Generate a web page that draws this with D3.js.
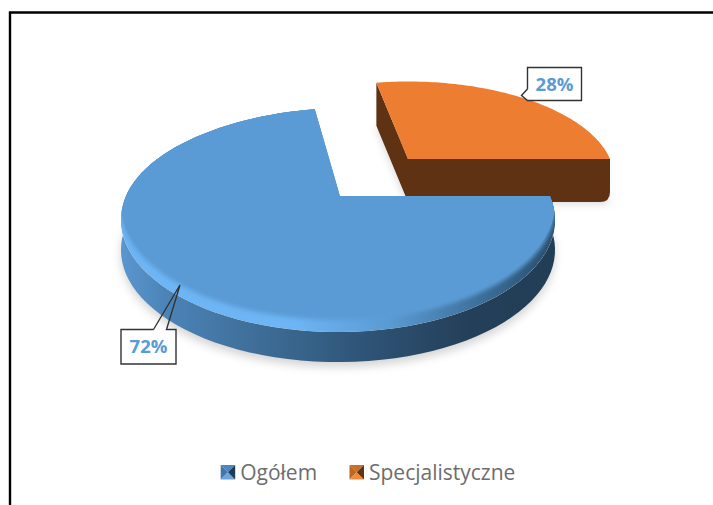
<!DOCTYPE html>
<html>
<head>
<meta charset="utf-8">
<script src="https://cdnjs.cloudflare.com/ajax/libs/d3/7.8.5/d3.min.js"></script>
<style>
  html, body { margin: 0; padding: 0; background: #fff; }
  svg { display: block; }
  text { font-family: "Open Sans", "Noto Sans", sans-serif; }
</style>
</head>
<body>
<div id="chart"></div>
<script>
var categories = ['Ogółem', 'Specjalistyczne'];
var values = [72, 28];
var labels = ['72%', '28%'];
var topColors = ['#5b9bd5', '#ed7d31'];

var width = 713, height = 505;

var svg = d3.select('#chart').append('svg')
    .attr('width', width)
    .attr('height', height);

var defs = svg.append('defs');

var blur = defs.append('filter').attr('id', 'shadow')
    .attr('x', '-20%').attr('y', '-20%').attr('width', '140%').attr('height', '140%');
blur.append('feGaussianBlur').attr('stdDeviation', 5);

var soft = defs.append('filter').attr('id', 'soft')
    .attr('x', '-5%').attr('y', '-5%').attr('width', '110%').attr('height', '110%');
soft.append('feGaussianBlur').attr('stdDeviation', 2);

function gradient(id, x1, x2, stops) {
    var g = defs.append('linearGradient').attr('id', id)
        .attr('gradientUnits', 'userSpaceOnUse')
        .attr('x1', x1).attr('x2', x2).attr('y1', 0).attr('y2', 0);
    stops.forEach(function(s) {
        g.append('stop').attr('offset', s[0]).attr('stop-color', s[1]);
    });
}

gradient('blueSide', 121, 556, [[0, '#5a97cf'], [0.1, '#4c84b8'], [0.3, '#3f6f9a'], [0.55, '#2f5578'], [0.8, '#243f59'], [1, '#223d56']]);
gradient('blueBevel', 121, 556, [[0, '#6db5f5'], [0.4, '#6db5f5'], [0.62, '#5a9ad2'], [0.85, '#3a6a94'], [1, '#2a4d6c']]);

// slices start at the right hand side of the pie, going clockwise
var pie = d3.pie().sort(null).startAngle(Math.PI / 2).endAngle(Math.PI * 2.5);
var arcs = pie(values);

// perspective view of a flat disc, a slice keeps its angles but the far rim shrinks
function project(view, a) {
    var u = Math.sin(a), v = Math.cos(a), w = 1 + view.k * v;
    var lean = view.lean * Math.pow(Math.max(v, 0), 2);
    return [view.x + view.rx * u / w + lean, view.y - view.ry * v / w + (view.dy || 0)];
}

function rim(view, a0, a1) {
    var n = 90;
    return d3.range(n + 1).map(function(i) {
        return project(view, a0 + (a1 - a0) * i / n);
    });
}

var line = d3.line();
var curve = function(pts) { return line(pts) + 'Z'; };

var views = [
    {x: 338, y: 196, rx: 212, ry: 107, k: 0.214, lean: 10, apex: [340, 196]},
    {x: 408, y: 159, rx: 202, ry: 93, k: 0.2, lean: 0, apex: [408, 159]}
];

function shifted(view, dy) {
    return {x: view.x, y: view.y, rx: view.rx, ry: view.ry, k: view.k, lean: view.lean, apex: [view.apex[0], view.apex[1] + dy], dy: dy};
}

var ba0 = arcs[0].startAngle, ba1 = arcs[0].endAngle;
var oa0 = arcs[1].startAngle - Math.PI * 2, oa1 = arcs[1].endAngle - Math.PI * 2;

// shadows
var shadowG = svg.append('g').attr('filter', 'url(#shadow)').attr('fill', '#000').attr('opacity', 0.17);
var blueShade = shifted(views[0], 35), orangeShade = shifted(views[1], 44);
shadowG.append('path').attr('d', curve(rim(blueShade, ba0, ba1).concat([blueShade.apex])));
shadowG.append('path').attr('d', curve(rim(orangeShade, oa0, oa1).concat([orangeShade.apex])));

// orange slice, wall first then top
var orangeDepth = 43;
var orangeLow = shifted(views[1], orangeDepth);
var oc = project(orangeLow, oa1);
var orangeWall = line([project(views[1], oa0), project(orangeLow, oa0), orangeLow.apex, [oc[0] - 10, oc[1]]]) +
    'Q' + [oc[0], oc[1]] + ' ' + [oc[0], oc[1] - 10] +
    line([project(views[1], oa1), views[1].apex]).replace('M', 'L') + 'Z';
svg.append('path').attr('d', orangeWall).attr('fill', '#5e3213');
svg.append('path')
    .attr('d', curve([views[1].apex].concat(rim(views[1], oa0, oa1))))
    .attr('fill', topColors[1]);

// blue slice, wall then bevel then flat top
var blueDepth = 30;
var blueLow = shifted(views[0], blueDepth);
var blueWall = rim(views[0], ba0, ba1).concat(rim(blueLow, ba0, ba1).reverse());
svg.append('path').attr('d', curve(blueWall)).attr('fill', 'url(#blueSide)');

var bluePath = curve([views[0].apex].concat(rim(views[0], ba0, ba1)));
defs.append('clipPath').attr('id', 'blueTop').append('path').attr('d', bluePath);
var topG = svg.append('g').attr('clip-path', 'url(#blueTop)');
topG.append('path').attr('d', bluePath).attr('fill', 'url(#blueBevel)');

var flat = shifted(views[0], -12);
topG.append('path')
    .attr('d', curve([views[0].apex, [project(views[0], ba0)[0] - 3, views[0].y - 8]].concat(rim(flat, ba0, ba1))))
    .attr('fill', topColors[0])
    .attr('filter', 'url(#soft)');
// the flat colour reaches the straight cut with a sharp edge
topG.append('path')
    .attr('d', curve([views[0].apex, [project(views[0], ba0)[0] - 6, views[0].y]].concat(rim(shifted(views[0], -16), ba0, ba1))))
    .attr('fill', topColors[0]);

// data labels with their callouts, the outline opens where the tail joins
var labelBoxes = [
    {x: 121, y: 329.5, w: 55, h: 34.5, outline: [[153.5, 329.5], [121, 329.5], [121, 364], [176, 364], [176, 329.5], [166.5, 329.5], [180, 285], [153.5, 329.5]]},
    {x: 527.5, y: 67.5, w: 54, h: 33, outline: [[527.5, 89], [527.5, 67.5], [581.5, 67.5], [581.5, 100.5], [527.5, 100.5], [521.5, 95.5], [527.5, 89]]}
];
labelBoxes.forEach(function(b, i) {
    svg.append('rect').attr('x', b.x).attr('y', b.y).attr('width', b.w).attr('height', b.h)
        .attr('fill', '#fff');
    svg.append('path').attr('d', line(b.outline)).attr('fill', 'none')
        .attr('stroke', '#333').attr('stroke-width', 1.4);
    svg.append('text').attr('x', b.x + b.w / 2).attr('y', b.y + b.h / 2 + 6.5)
        .attr('text-anchor', 'middle').attr('font-size', 18.5).attr('font-weight', 700)
        .attr('fill', topColors[0]).text(labels[i]);
});

// legend
var legendItems = [220.7, 349.5];
var legendShades = [
    ['#3e76ad', '#6aa5dc', '#4a86c0', '#1f3b57'],
    ['#c0661f', '#f08a3c', '#c96f28', '#5e3213']
];
var legend = svg.append('g');
legendItems.forEach(function(x, i) {
    var s = 14.5, y = 465;
    var c = [x + s / 2, y + s / 2];
    [[[x, y], [x, y + s]], [[x, y + s], [x + s, y + s]], [[x, y], [x + s, y]], [[x + s, y], [x + s, y + s]]].forEach(function(e, j) {
        legend.append('path').attr('d', curve([e[0], e[1], c])).attr('fill', legendShades[i][j]);
    });
    legend.append('text').attr('x', x + s + 5).attr('y', y + 15)
        .attr('font-size', 21).attr('fill', '#6d6d6d').text(categories[i]);
});

// outer frame
svg.append('path').attr('d', 'M10,505V12.5H713').attr('fill', 'none').attr('stroke', '#000').attr('stroke-width', 2.4);
</script>
</body>
</html>
